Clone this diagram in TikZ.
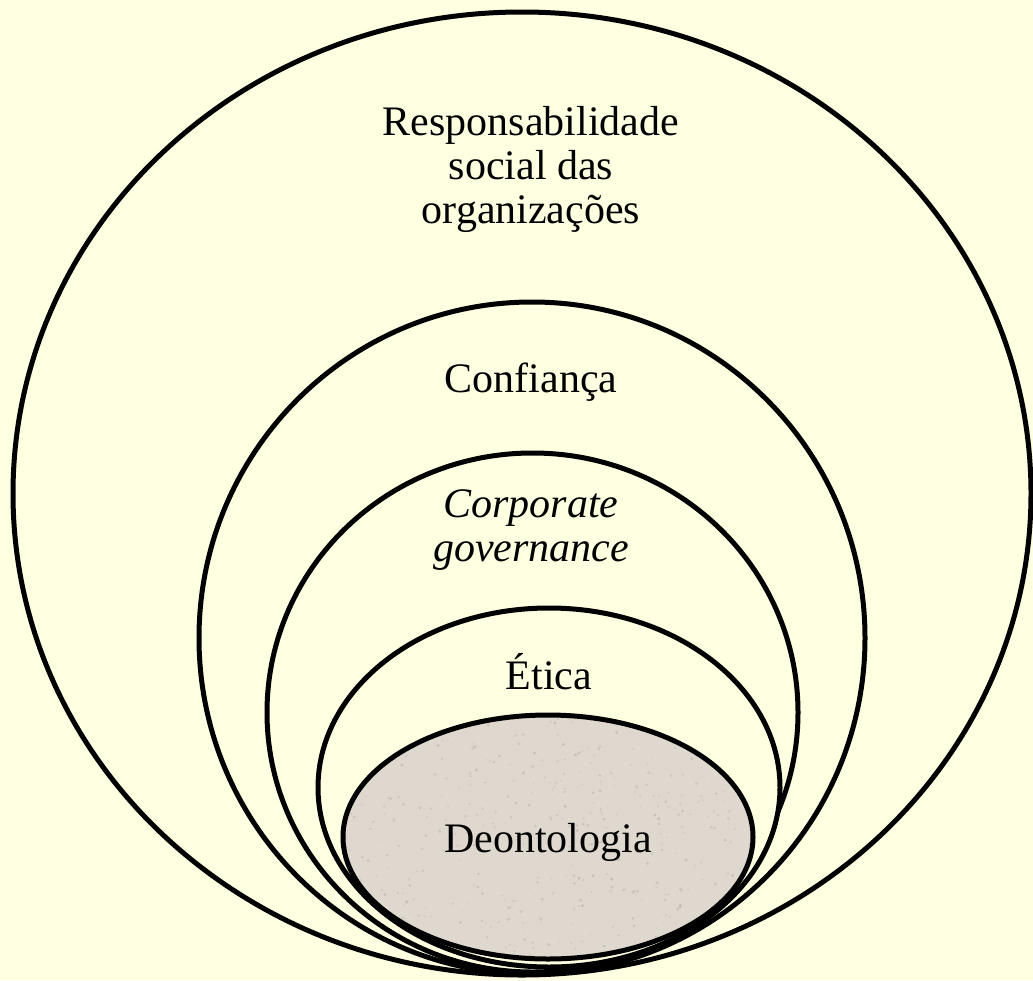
\documentclass[tikz,border=0pt]{standalone}
\usepackage{fontspec}
\setmainfont{Liberation Serif}
\definecolor{paper}{RGB}{255,255,225}
\definecolor{stone}{RGB}{222,216,206}
\definecolor{grain}{RGB}{165,156,144}
\begin{document}
\begin{tikzpicture}[x=1pt,y=-1pt,
    ring/.style={draw=black, line width=5pt},
    lbl/.style={font=\fontsize{42}{44}\selectfont, align=center, inner sep=0pt}]
  % canvas
  \fill[paper] (0,0) rectangle (1033,980);
  \useasboundingbox (0,0) rectangle (1033,980);

  % nested rings, outermost first
  \draw[ring, fill=paper] (522,493.5) ellipse [x radius=509pt, y radius=481.5pt];
  \draw[ring, fill=paper] (532,638) ellipse [x radius=333pt, y radius=336pt];
  \draw[ring, fill=paper] (532.5,712.5) ellipse [x radius=265.5pt, y radius=259.5pt];
  \draw[ring, fill=paper] (549,787.5) ellipse [x radius=231pt, y radius=179.5pt];

  % stone-textured core
  \fill[stone] (548,837) ellipse [x radius=205pt, y radius=122pt];
  \begin{scope}
    \clip (548,837) ellipse [x radius=205pt, y radius=122pt];
    \pgfmathsetseed{42}
    \foreach \i in {1,...,500} {
      \pgfmathsetmacro{\px}{343+410*rnd}
      \pgfmathsetmacro{\py}{715+244*rnd}
      \pgfmathsetmacro{\pr}{0.6+1.2*rnd}
      \pgfmathsetmacro{\po}{0.12+0.28*rnd}
      \fill[grain, opacity=\po] (\px,\py) circle [radius=\pr pt];
    }
  \end{scope}
  \draw[ring] (548,837) ellipse [x radius=205pt, y radius=122pt];

  % labels (base anchor sits on the last line's baseline)
  \node[lbl, anchor=base] (rso) at (531,223)
    {Responsabilidade\\social das\\organizações};
  \node[lbl, anchor=base] (conf) at (531,392) {Confiança};
  \node[lbl, anchor=base, font=\fontsize{42}{44}\selectfont\itshape] (cg) at (531,561)
    {Corporate\\governance};
  \node[lbl, anchor=base] (etica) at (549,689) {Ética};
  \node[lbl, anchor=base] (deon) at (548,852) {Deontologia};
\end{tikzpicture}
\end{document}
